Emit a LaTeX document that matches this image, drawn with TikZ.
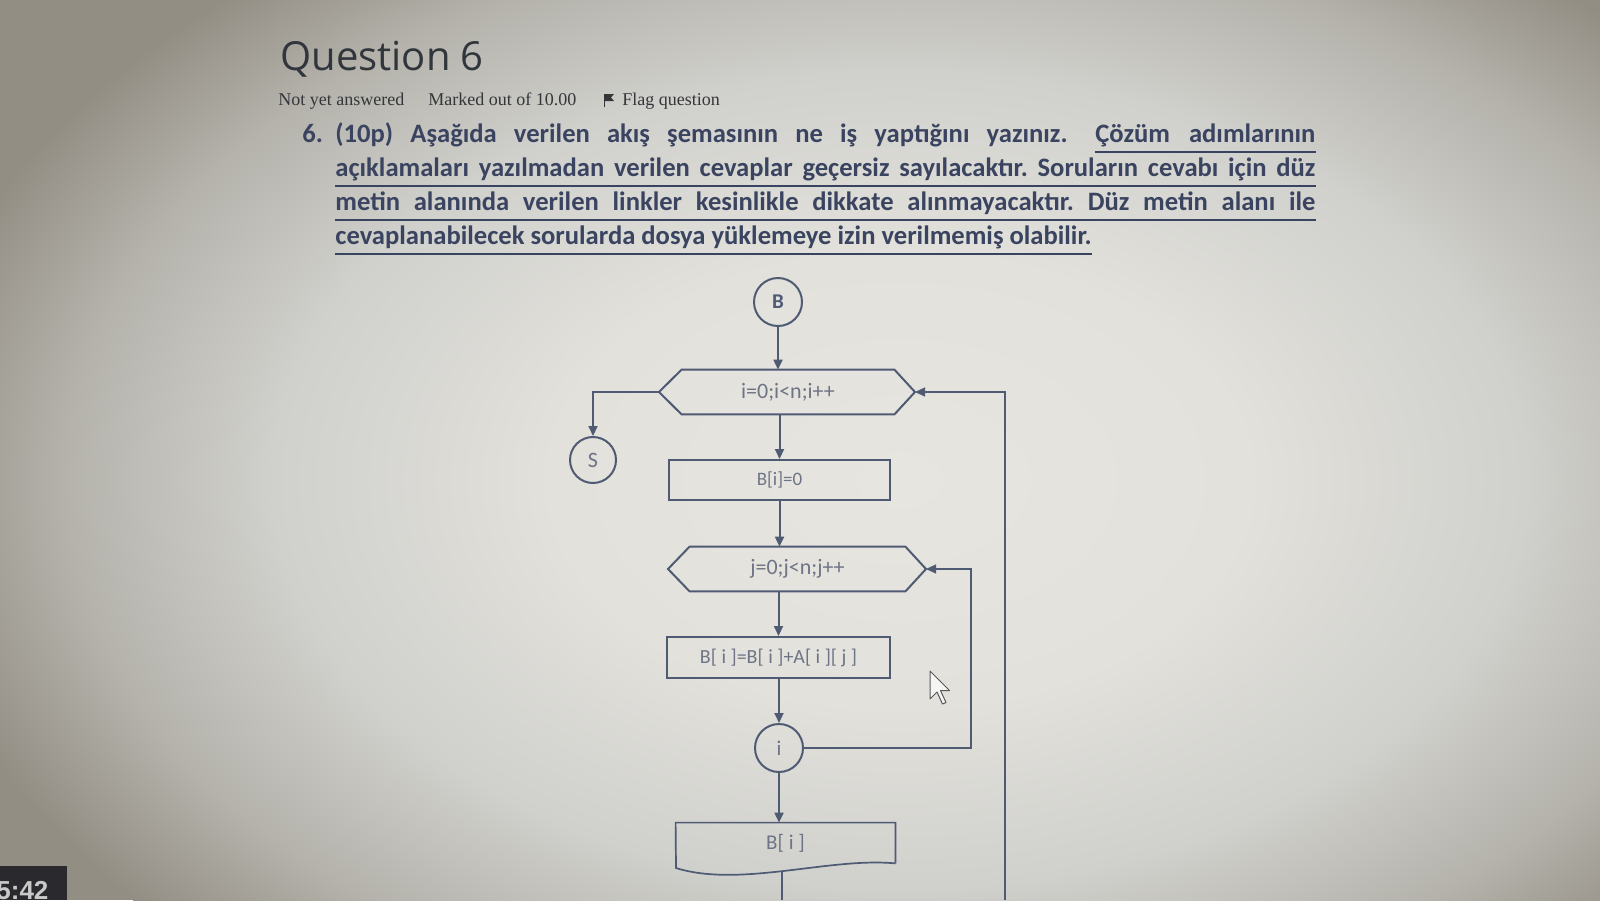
\documentclass[tikz,border=0pt]{standalone}
\usepackage{fontspec}
\usepackage{graphicx}
\setmainfont{Carlito}
\newfontfamily\titlefont{Open Sans}
\newfontfamily\metafont{Liberation Serif}
\newfontfamily\clockfont{Liberation Sans}
\usetikzlibrary{arrows.meta}
\frenchspacing
\definecolor{bgA}{HTML}{E6E5E0}
\definecolor{bgA2}{HTML}{E2E1DC}
\definecolor{bgB}{HTML}{D0D0CC}
\definecolor{bgC}{HTML}{B4B2AB}
\definecolor{bgD}{HTML}{938E84}
\definecolor{lineC}{HTML}{4F5A73}
\definecolor{textC}{HTML}{6E7485}
\definecolor{titleC}{HTML}{30363B}
\definecolor{metaC}{HTML}{34363A}
\definecolor{paraC}{HTML}{3A4460}
\definecolor{clockbg}{HTML}{2A2A2E}
\definecolor{clockC}{HTML}{C9C9C9}
\pgfdeclareradialshading{photobg}{\pgfpoint{0bp}{0bp}}{color(0bp)=(bgA); color(25bp)=(bgA2); color(45bp)=(bgB); color(60bp)=(bgC); color(72bp)=(bgD)}
\tikzset{
  ln/.style={draw=lineC, line width=1pt},
  arr/.style={ln, -{Triangle[length=5pt,width=4.5pt]}},
  looparr/.style={draw=lineC, line width=0.65pt, -{Triangle[length=5pt,width=4.5pt]}},
  procbox/.style={rectangle, draw=lineC, line width=1pt, inner sep=0pt, text=textC, font=\fontsize{10pt}{12pt}\selectfont},
  conn/.style={circle, draw=lineC, line width=1pt, inner sep=0pt, minimum size=24pt, text=textC, font=\fontsize{10.5pt}{12pt}\selectfont},
  hexlabel/.style={rectangle, inner sep=0pt, minimum height=22pt, text=textC, font=\fontsize{11pt}{13pt}\selectfont},
  hexshape/.style={draw=lineC, line width=1pt, line join=miter},
  metatext/.style={anchor=base west, inner sep=0pt, text=metaC, font=\metafont\fontsize{9pt}{11pt}\selectfont},
  qline/.style={anchor=base west, inner sep=0pt, text=paraC, font=\bfseries\fontsize{13.3pt}{17pt}\selectfont},
  uline/.style={draw=paraC, line width=0.85pt},
}
\begin{document}
\begin{tikzpicture}[x=0.5pt,y=-0.5pt]
\useasboundingbox (0,0) rectangle (1600,900);
\begin{scope}
\clip (0,0) rectangle (1600,900);
\fill[bgD] (0,0) rectangle (1600,900);
\node[inner sep=0pt, outer sep=0pt] (bgshade) at (900,480) {\scalebox{6.94}[4.51]{\pgfuseshading{photobg}}};
\end{scope}

% header
\node[anchor=base west, inner sep=0pt, text=titleC, font=\titlefont\fontsize{20pt}{24pt}\selectfont] (title) at (280,70) {Question 6};
\node[metatext] (notyet) at (278,105) {Not yet answered};
\node[metatext] (marked) at (428,105) {Marked out of 10.00};
\node[metatext] (flagq) at (622,105) {Flag question};
\draw[metaC, line width=0.6pt] (604.5,94) -- (604.5,107);
\fill[metaC] (604.5,94) -- (614,94) -- (611,97.5) -- (614,101) -- (604.5,101) -- cycle;

% question text
\node[qline] (qnum) at (302,142) {6.};
\node[qline] (l1a) at (335,142) {\makebox[366pt][s]{(10p) Aşağıda verilen akış şemasının ne iş yaptığını yazınız.}};
\node[qline] (l1b) at (1095,142) {\makebox[110pt][s]{Çözüm adımlarının}};
\node[qline] (l2) at (335,176) {\makebox[490pt][s]{açıklamaları yazılmadan verilen cevaplar geçersiz sayılacaktır. Soruların cevabı için düz}};
\node[qline] (l3) at (335,210) {\makebox[490pt][s]{metin alanında verilen linkler kesinlikle dikkate alınmayacaktır. Düz metin alanı ile}};
\node[qline] (l4) at (335,244) {cevaplanabilecek sorularda dosya yüklemeye izin verilmemiş olabilir.};
\draw[uline] ([yshift=-5pt]l1b.base west) -- ([yshift=-5pt]l1b.base east);
\draw[uline] ([yshift=-5pt]l2.base west) -- ([yshift=-5pt]l2.base east);
\draw[uline] ([yshift=-5pt]l3.base west) -- ([yshift=-5pt]l3.base east);
\draw[uline] ([yshift=-5pt]l4.base west) -- ([yshift=-5pt]l4.base east);

% flowchart nodes
\node[conn, font=\bfseries\fontsize{10.5pt}{12pt}\selectfont, text=lineC] (B) at (778,302) {B};
\node[hexlabel, minimum width=106pt] (hexi) at (788,392) {i=0;i<n;i++};
\coordinate (hexiL) at (659,392);
\coordinate (hexiR) at (915,392);
\draw[hexshape] (hexi.north west) -- (hexi.north east) -- (hexiR) -- (hexi.south east) -- (hexi.south west) -- (hexiL) -- cycle;
\node[conn, minimum size=23pt, font=\fontsize{11pt}{12pt}\selectfont] (S) at (593,460) {S};
\node[procbox, minimum width=110.5pt, minimum height=20pt, font=\fontsize{9.5pt}{11pt}\selectfont] (box1) at (779.5,480) {B[i]=0};
\node[hexlabel, minimum width=107.5pt] (hexj) at (797.5,569) {j=0;j<n;j++};
\coordinate (hexjL) at (668,569);
\coordinate (hexjR) at (926,569);
\draw[hexshape] (hexj.north west) -- (hexj.north east) -- (hexjR) -- (hexj.south east) -- (hexj.south west) -- (hexjL) -- cycle;
\node[procbox, minimum width=111.5pt, minimum height=20.5pt] (box2) at (778.5,657.5) {B[ i ]=B[ i ]+A[ i ][ j ]};
\node[conn] (ci) at (779,748) {i};
\node[rectangle, inner sep=0pt, minimum width=109.5pt, minimum height=20pt, text=textC, font=\fontsize{10.5pt}{12pt}\selectfont] (out) at (785.5,843) {B[ i ]};
\draw[ln, line width=0.85pt] (out.south east) -- (out.north east) -- (out.north west) -- (676,868) .. controls (740,888) and (830,857) .. (out.south east);
\coordinate (docLow) at (782,871);
\coordinate (pageEnd) at (782,900);
\coordinate (outerLow) at (1005,900);
\coordinate (innerX) at (971,0);

% connectors
\draw[arr] (B.south) -- (B.south |- hexi.north);
\draw[arr] (hexiL) -| (S.north);
\draw[arr] (box1.north |- hexi.south) -- (box1.north);
\draw[arr] (box1.south) -- (box1.south |- hexj.north);
\draw[arr] (box2.north |- hexj.south) -- (box2.north);
\draw[arr] (box2.south -| ci.north) -- (ci.north);
\draw[arr] (ci.south) -- (ci.south |- out.north);
\draw[ln] (docLow) -- (pageEnd);
\draw[looparr] (ci.east) -- (ci.east -| innerX) |- (hexjR);
\draw[looparr] (outerLow) |- (hexiR);

% mouse cursor
\draw[fill=white!92!gray, draw=gray!70!black, line width=0.5pt, line join=round]
  (930,671) -- (930,699) -- (937,692) -- (942.5,704) -- (946,702.5) -- (940.5,690.5) -- (949.5,690.5) -- cycle;

% clock overlay
\fill[clockbg] (0,866) rectangle (67,900);
\begin{scope}
\clip (0,866) rectangle (67,900);
\node[anchor=base west, inner sep=0pt, text=clockC, font=\clockfont\bfseries\fontsize{13pt}{13pt}\selectfont] (clock) at (-4,899) {5:42};
\end{scope}
\end{tikzpicture}
\end{document}
